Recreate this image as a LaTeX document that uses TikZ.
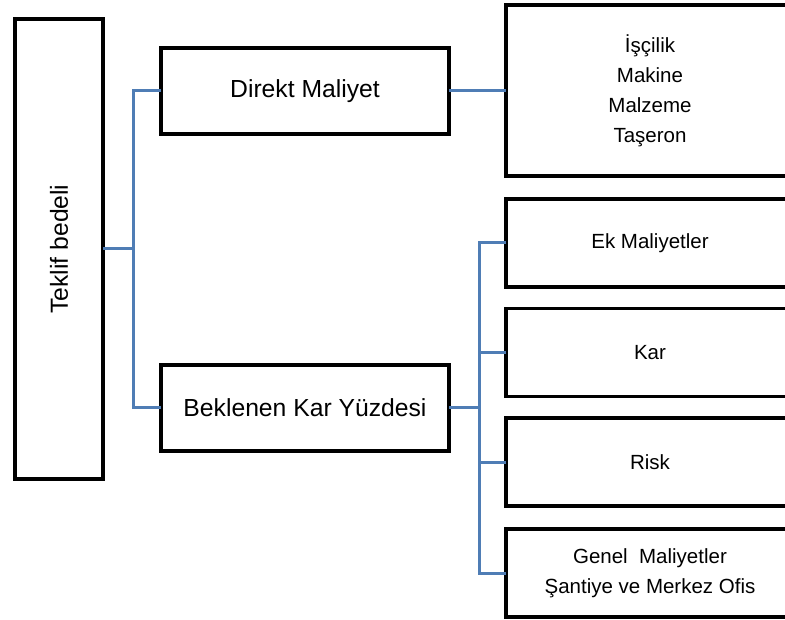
\documentclass[tikz,border=0pt]{standalone}
\usepackage{fontspec}
\setmainfont{Liberation Sans}
\definecolor{connblue}{RGB}{79,125,181}
\tikzset{
  box/.style={draw=black, line width=3.5pt, fill=white, rectangle, inner sep=0pt, outer sep=0pt, align=center},
  bigtxt/.style={font=\fontsize{24.7}{28}\selectfont},
  smalltxt/.style={font=\fontsize{20.5}{30}\selectfont},
  conn/.style={draw=connblue, line width=3pt}
}
\begin{document}
\begin{tikzpicture}[x=1pt,y=-1pt]
\useasboundingbox (0,0) rectangle (785,620);
\clip (0,0) rectangle (785,620);
\fill[white] (0,0) rectangle (785,620);
% nodes
\node[box, bigtxt, minimum width=88pt, minimum height=460pt] (teklif) at (59,249) {};
\node[bigtxt, rotate=90] (teklift) at (teklif.center) {Teklif bedeli};
\node[box, bigtxt, minimum width=288pt, minimum height=86pt] (direkt) at (305,91) {Direkt Maliyet};
\node[box, bigtxt, minimum width=288pt, minimum height=86pt] (beklenen) at (305,408) {Beklenen\ Kar Yüzdesi};
\node[box, smalltxt, minimum width=288pt, minimum height=171pt] (isc) at (650,90.5) {İşçilik\\Makine\\Malzeme\\Taşeron};
\node[box, smalltxt, minimum width=288pt, minimum height=88pt] (ek) at (650,243) {Ek Maliyetler};
\node[box, smalltxt, minimum width=288pt, minimum height=88pt] (kar) at (650,352.5) {Kar};
\node[box, smalltxt, minimum width=288pt, minimum height=88pt] (risk) at (650,462) {Risk};
\node[box, smalltxt, minimum width=288pt, minimum height=88pt] (genel) at (650,573) {Genel\ \ Maliyetler\\Şantiye ve Merkez Ofis};
% connectors
\coordinate (b1) at (133,249);
\coordinate (b2) at (479,408);
\draw[conn] (teklif.east) -- (b1);
\draw[conn] (direkt.west) -| (b1) |- (beklenen.west);
\draw[conn] (direkt.east) -- (direkt.east -| isc.west);
\draw[conn] (beklenen.east) -- (b2);
\draw[conn] (ek.west) -| (b2) |- (genel.west);
\draw[conn] (kar.west) -- (kar.west -| b2);
\draw[conn] (risk.west) -- (risk.west -| b2);
\end{tikzpicture}
\end{document}
